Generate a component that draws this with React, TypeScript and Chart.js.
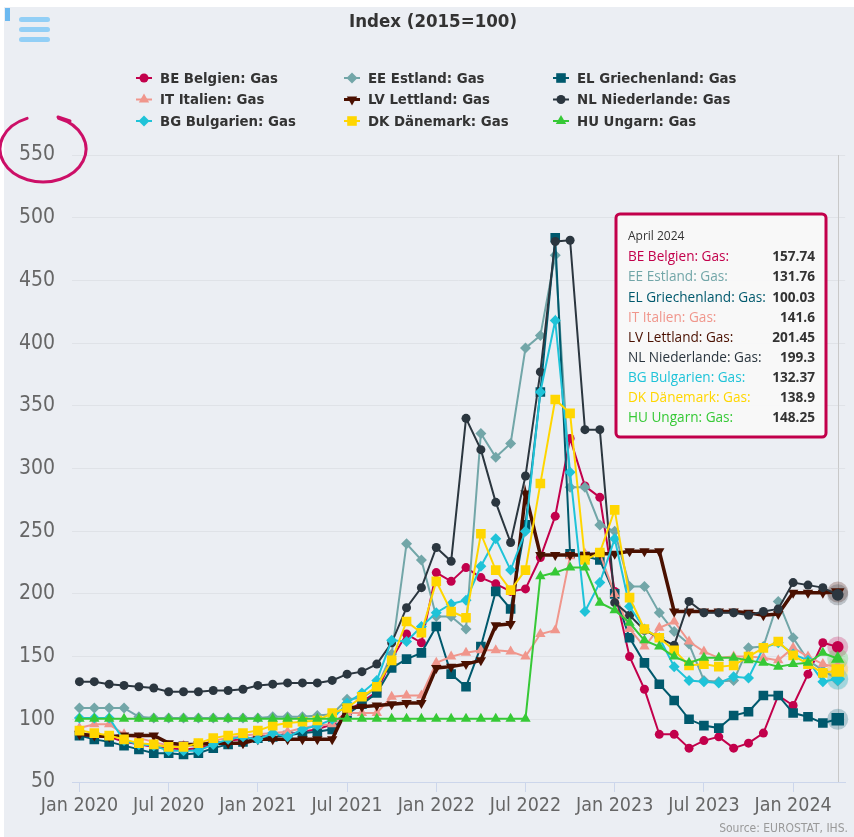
import React, { useEffect, useRef } from 'react';
import { Chart, registerables } from 'chart.js';

Chart.register(...registerables);

// ---------- categories ----------
const MONTH_NAMES = ['Jan', 'Feb', 'Mar', 'Apr', 'May', 'Jun', 'Jul', 'Aug', 'Sep', 'Oct', 'Nov', 'Dec'];
const START_YEAR = 2020;
const N_POINTS = 52; // Jan 2020 .. Apr 2024
const categories: string[] = Array.from({ length: N_POINTS }, (_, i) => `${MONTH_NAMES[i % 12]} ${START_YEAR + Math.floor(i / 12)}`);

const TITLE = 'Index (2015=100)';
const TOOLTIP_TITLE = 'April 2024';
const SOURCE = 'Source: EUROSTAT, IHS.';
const Y_MIN = 50;
const Y_MAX = 550;
const Y_STEP = 50;

// ---------- series ----------
const SERIES_NAMES = [
  'BE Belgien: Gas', 'EE Estland: Gas', 'EL Griechenland: Gas',
  'IT Italien: Gas', 'LV Lettland: Gas', 'NL Niederlande: Gas',
  'BG Bulgarien: Gas', 'DK Dänemark: Gas', 'HU Ungarn: Gas',
];
const SERIES_COLORS = ['#c2004b', '#72a6a8', '#00596d', '#f0968c', '#4a1000', '#2b363f', '#1fc3d8', '#ffd600', '#36c936'];
const SERIES_MARKERS = ['circle', 'diamond', 'square', 'triangle', 'triangle-down', 'circle', 'diamond', 'square', 'triangle'];

const BE = [
  87, 86, 86, 82, 80, 78, 77, 76, 77, 80, 83, 84,
  86, 87, 88, 90, 92, 96, 106, 114, 122, 148, 168, 161,
  217, 210, 221, 213, 208, 202, 204, 229, 262, 324, 286, 277,
  202, 150, 124, 88, 88, 77, 83, 86, 77, 81, 89, 119,
  111, 136, 161, 157.74,
];
const EE = [
  109, 109, 109, 109, 102, 101, 101, 101, 101, 101, 101, 101,
  101, 102, 102, 102, 103, 104, 116, 117, 125, 152, 240, 227,
  182, 182, 172, 328, 309, 320, 396, 406, 470, 285, 285, 255,
  250, 206, 206, 185, 170, 160, 131, 130, 131, 157, 158, 194,
  165, 147, 139, 131.76,
];
const EL = [
  87, 84, 82, 79, 76, 73, 73, 72, 73, 77, 80, 82,
  85, 86, 87, 89, 90, 92, 104, 112, 121, 141, 148, 153,
  174, 136, 126, 158, 202, 188, 255, 361, 484, 232, 230, 227,
  200, 165, 145, 128, 115, 100, 95, 93, 103, 106, 119, 119,
  105, 102, 97, 100.03,
];
const IT = [
  93, 96, 96, 88, 85, 82, 79, 79, 80, 83, 85, 87,
  88, 89, 90, 93, 95, 96, 105, 105, 105, 118, 119, 119,
  145, 150, 153, 155, 155, 154, 150, 168, 171, 230, 232, 232,
  200, 172, 158, 173, 178, 162, 154, 149, 150, 150, 149, 147,
  157, 150, 144, 141.6,
];
const LV = [
  88, 87, 86, 87, 87, 87, 81, 80, 80, 81, 81, 81,
  84, 84, 84, 84, 84, 84, 109, 110, 111, 112, 113, 113,
  141, 142, 144, 147, 175, 176, 280, 231, 231, 231, 231, 232,
  232, 234, 234, 234, 186, 186, 186, 186, 186, 185, 183, 184,
  201, 201, 201, 201.45,
];
const NL = [
  130, 130, 128, 127, 126, 125, 122, 122, 122, 123, 123, 124,
  127, 128, 129, 129, 129, 131, 136, 138, 144, 161, 189, 205,
  237, 226, 340, 315, 273, 241, 294, 377, 481, 482, 331, 331,
  193, 183, 171, 165, 159, 194, 185, 185, 185, 183, 186, 188,
  209, 207, 205, 199.3,
];
const BG = [
  101, 101, 101, 83, 80, 79, 75, 75, 75, 80, 84, 86,
  84, 89, 86, 92, 95, 100, 113, 121, 131, 163, 162, 174,
  185, 192, 195, 222, 244, 219, 250, 361, 418, 297, 186, 209,
  244, 190, 172, 165, 142, 131, 130, 129, 134, 133, 157, 161,
  152, 147, 130, 132.37,
];
const DK = [
  91, 89, 87, 84, 81, 80, 78, 78, 81, 85, 87, 89,
  91, 95, 97, 98, 99, 105, 109, 118, 126, 147, 178, 169,
  210, 186, 181, 248, 219, 203, 219, 288, 355, 344, 227, 233,
  267, 197, 172, 165, 155, 143, 144, 142, 143, 150, 157, 162,
  151, 144, 137, 138.9,
];
const HU = [
  100.5, 100.5, 100.5, 100.5, 100.5, 100.5, 100.5, 100.5, 100.5, 100.5, 100.5, 100.5,
  100.5, 100.5, 100.5, 100.5, 100.5, 100.5, 100.5, 100.5, 100.5, 100.5, 100.5, 100.5,
  100.5, 100.5, 100.5, 100.5, 100.5, 100.5, 100.5, 214, 217, 221, 221, 193,
  187, 177, 163, 158, 150, 145, 149, 149, 149, 147, 145, 142,
  144, 145, 153, 148.25,
];
const SERIES_VALUES = [BE, EE, EL, IT, LV, NL, BG, DK, HU];

// ---------- style ----------
const COND = "'Liberation Sans Narrow', 'DejaVu Sans Condensed', 'Roboto Condensed', 'Roboto', sans-serif";
const SANS = "'Open Sans', 'DejaVu Sans', sans-serif";
const BG_COLOR = '#ebeef3';
const LAST = N_POINTS - 1;

function hexA(hex: string, a: number) {
  const n = parseInt(hex.slice(1), 16);
  return `rgba(${(n >> 16) & 255},${(n >> 8) & 255},${n & 255},${a})`;
}

function chartStyle(m: string): { style: any; rot: number; r: number } {
  switch (m) {
    case 'circle': return { style: 'circle', rot: 0, r: 4.5 };
    case 'diamond': return { style: 'rectRot', rot: 0, r: 5.5 };
    case 'square': return { style: 'rect', rot: 0, r: 6.8 };
    case 'triangle': return { style: 'triangle', rot: 0, r: 6 };
    case 'triangle-down': return { style: 'triangle', rot: 180, r: 6 };
  }
  return { style: 'circle', rot: 0, r: 4 };
}

function drawMarker(ctx: CanvasRenderingContext2D, m: string, x: number, y: number, color: string) {
  ctx.beginPath();
  if (m === 'circle') ctx.arc(x, y, 4.5, 0, Math.PI * 2);
  else if (m === 'square') ctx.rect(x - 4.8, y - 4.8, 9.6, 9.6);
  else if (m === 'diamond') { ctx.moveTo(x, y - 5.5); ctx.lineTo(x + 5.5, y); ctx.lineTo(x, y + 5.5); ctx.lineTo(x - 5.5, y); ctx.closePath(); }
  else if (m === 'triangle') { ctx.moveTo(x, y - 6); ctx.lineTo(x + 5.2, y + 3); ctx.lineTo(x - 5.2, y + 3); ctx.closePath(); }
  else if (m === 'triangle-down') { ctx.moveTo(x, y + 6); ctx.lineTo(x + 5.2, y - 3); ctx.lineTo(x - 5.2, y - 3); ctx.closePath(); }
  ctx.fillStyle = color;
  ctx.fill();
}

const backgroundPlugin = {
  id: 'bgPlugin',
  beforeDraw(chart: any) {
    const { ctx, width, height } = chart;
    ctx.save();
    ctx.fillStyle = '#ffffff';
    ctx.fillRect(0, 0, width, height);
    ctx.fillStyle = BG_COLOR;
    ctx.fillRect(4, 7, width - 4, height - 7);
    ctx.restore();
  },
};

const hoverPlugin = {
  id: 'hoverPlugin',
  beforeDatasetsDraw(chart: any) {
    const { ctx, chartArea } = chart;
    const xs = chart.scales.x.getPixelForValue(LAST);
    ctx.save();
    ctx.strokeStyle = '#c8c8c8';
    ctx.lineWidth = 1;
    ctx.beginPath();
    ctx.moveTo(Math.round(xs) + 0.5, chartArea.top);
    ctx.lineTo(Math.round(xs) + 0.5, chartArea.bottom);
    ctx.stroke();
    SERIES_VALUES.forEach((_, i) => {
      const meta = chart.getDatasetMeta(i);
      const p = meta.data[LAST];
      if (!p) return;
      ctx.beginPath();
      ctx.arc(p.x, p.y, 10.5, 0, Math.PI * 2);
      ctx.fillStyle = hexA(SERIES_COLORS[i], 0.25);
      ctx.fill();
    });
    ctx.restore();
  },
};

const decorPlugin = {
  id: 'decorPlugin',
  afterDraw(chart: any) {
    const { ctx } = chart;
    ctx.save();
    // menu button
    ctx.fillStyle = '#6cb9f0';
    ctx.fillRect(5, 8, 5, 13);
    ctx.fillStyle = '#92cff6';
    [17, 27, 37].forEach((y) => {
      ctx.beginPath();
      ctx.roundRect(19, y, 31, 5, 2.5);
      ctx.fill();
    });
    // title
    ctx.fillStyle = '#333333';
    ctx.font = `bold 18.5px ${COND}`;
    ctx.textAlign = 'center';
    ctx.textBaseline = 'middle';
    ctx.fillText(TITLE, 433, 22);
    // legend (3 columns)
    const colX = [144, 352, 561];
    const rowY = [78, 99.5, 121];
    ctx.font = `bold 14.8px ${COND}`;
    ctx.textAlign = 'left';
    SERIES_NAMES.forEach((name, i) => {
      const cx = colX[i % 3];
      const cy = rowY[Math.floor(i / 3)];
      ctx.strokeStyle = SERIES_COLORS[i];
      ctx.lineWidth = i === 4 ? 3 : 2;
      ctx.beginPath();
      ctx.moveTo(cx - 8, cy);
      ctx.lineTo(cx + 8, cy);
      ctx.stroke();
      drawMarker(ctx, SERIES_MARKERS[i], cx, cy, SERIES_COLORS[i]);
      ctx.fillStyle = '#333333';
      ctx.fillText(name, cx + 16, cy + 1);
    });
    // tooltip
    const tx = 616, ty = 214, tw = 210, th = 223;
    ctx.fillStyle = 'rgba(248,248,248,0.97)';
    ctx.beginPath();
    ctx.roundRect(tx, ty, tw, th, 4);
    ctx.fill();
    ctx.strokeStyle = '#c2004b';
    ctx.lineWidth = 3;
    ctx.stroke();
    ctx.textBaseline = 'middle';
    ctx.textAlign = 'left';
    ctx.fillStyle = '#333333';
    ctx.font = `12px ${SANS}`;
    ctx.fillText(TOOLTIP_TITLE, 628, 237);
    SERIES_NAMES.forEach((name, i) => {
      const y = 257.5 + i * 20.1;
      ctx.textAlign = 'left';
      ctx.fillStyle = SERIES_COLORS[i];
      ctx.font = `13.6px ${SANS}`;
      ctx.fillText(name + ':', 628, y);
      ctx.textAlign = 'right';
      ctx.fillStyle = '#333333';
      ctx.font = `bold 13.6px ${SANS}`;
      ctx.fillText(String(SERIES_VALUES[i][LAST]), 815, y);
    });
    // source credit
    ctx.textAlign = 'right';
    ctx.fillStyle = '#999999';
    ctx.font = `12px ${COND}`;
    ctx.fillText(SOURCE, 848, 829);
    // hand-drawn annotation ring
    ctx.strokeStyle = '#cc0f67';
    ctx.lineWidth = 3;
    ctx.lineCap = 'round';
    ctx.beginPath();
    ctx.ellipse(43, 149, 43, 33, 0, -1.2, -1.95 + Math.PI * 2);
    ctx.stroke();
    ctx.beginPath();
    ctx.moveTo(58, 117);
    ctx.lineTo(70, 121);
    ctx.stroke();
    ctx.restore();
  },
};

export default function App() {
  const ref = useRef<HTMLCanvasElement | null>(null);
  useEffect(() => {
    if (!ref.current) return;
    const datasets = SERIES_NAMES.map((name, i) => {
      const st = chartStyle(SERIES_MARKERS[i]);
      return {
        label: name,
        data: SERIES_VALUES[i],
        borderColor: SERIES_COLORS[i],
        backgroundColor: SERIES_COLORS[i],
        pointBackgroundColor: SERIES_COLORS[i],
        pointBorderColor: SERIES_COLORS[i],
        pointBorderWidth: 0,
        borderWidth: i === 4 ? 3.5 : 2,
        pointStyle: st.style,
        pointRotation: st.rot,
        pointRadius: (c: any) => (c.dataIndex === LAST ? st.r * 1.3 : st.r),
        pointHoverRadius: st.r,
        tension: 0,
        fill: false,
        order: SERIES_NAMES.length - i,
      };
    });
    const chart = new Chart(ref.current, {
      type: 'line',
      data: { labels: categories, datasets },
      options: {
        animation: false,
        responsive: false,
        maintainAspectRatio: false,
        events: [],
        layout: { padding: { top: 155, bottom: 15, left: 0, right: 5 } },
        plugins: {
          legend: { display: false },
          tooltip: { enabled: false },
          title: { display: false },
        },
        scales: {
          x: {
            type: 'category',
            offset: true,
            grid: { drawOnChartArea: false, drawTicks: true, tickLength: 10, color: '#ccd6eb' },
            border: { color: '#ccd6eb', width: 1 },
            ticks: {
              autoSkip: false,
              maxRotation: 0,
              minRotation: 0,
              color: '#666666',
              padding: 2,
              font: { family: COND, size: 19.5 },
              callback: (_v: any, i: number) => {
                const l = categories[i];
                return l.startsWith('Jan') || l.startsWith('Jul') ? l : null;
              },
            },
            afterFit: (s: any) => { s.height = 40; },
          },
          y: {
            min: Y_MIN,
            max: Y_MAX,
            ticks: { stepSize: Y_STEP, color: '#666666', padding: 17, font: { family: COND, size: 21 } },
            grid: { color: '#dfe2e7', drawTicks: false },
            border: { display: false },
            afterFit: (s: any) => { s.width = 72; },
          },
        },
      },
      plugins: [backgroundPlugin, hoverPlugin, decorPlugin],
    } as any);
    return () => chart.destroy();
  }, []);
  return (
    <div style={{ position: 'absolute', left: 0, top: 0, width: 854, height: 837 }}>
      <canvas ref={ref} width={854} height={837} style={{ display: 'block' }} />
    </div>
  );
}
